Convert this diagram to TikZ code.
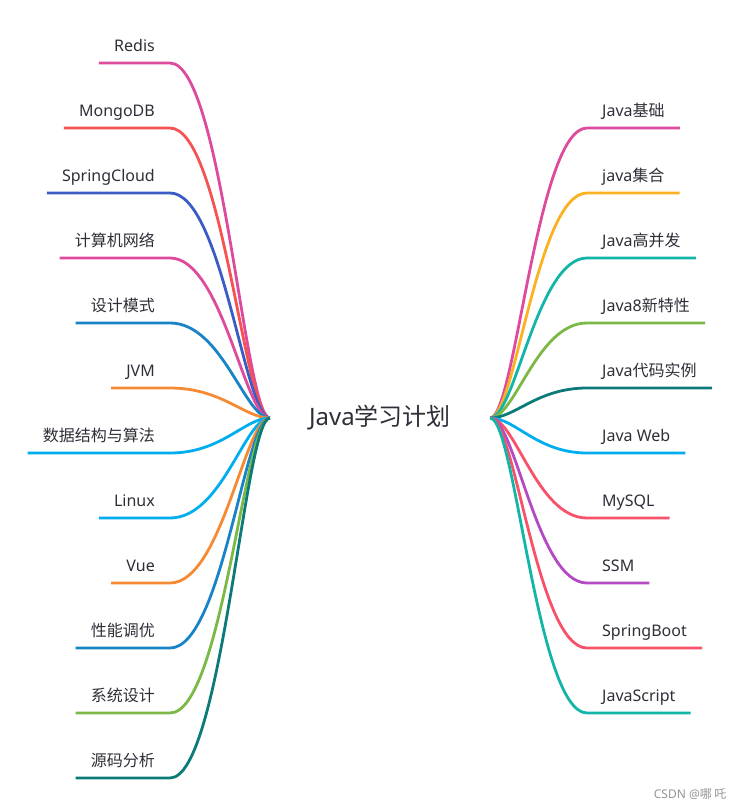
\documentclass[tikz,border=0pt]{standalone}
\usepackage{fontspec}
\setmainfont{Noto Sans}
\newfontfamily\cjk{Noto Sans CJK SC}
\usepackage{xcolor}
\usepackage{tikz}
\definecolor{labelgray}{HTML}{2E2E38}
\definecolor{mappink}{HTML}{DE4A9C}
\definecolor{mapred}{HTML}{F65252}
\definecolor{mapblue}{HTML}{3B5CC4}
\definecolor{midblue}{HTML}{1883C6}
\definecolor{maporange}{HTML}{F68A33}
\definecolor{mapcyan}{HTML}{00AEEF}
\definecolor{mapgreen}{HTML}{7BB846}
\definecolor{darkteal}{HTML}{0D7A7A}
\definecolor{mapamber}{HTML}{FBB122}
\definecolor{mapteal}{HTML}{12B5A8}
\definecolor{mapcoral}{HTML}{F7526A}
\definecolor{mappurple}{HTML}{B449C4}

\tikzset{
  leaf/.style={inner xsep=15pt, inner ysep=8pt, text height=11pt, text depth=3pt,
    text=labelgray, font=\fontsize{16}{19}\selectfont},
  leftleaf/.style={leaf, anchor=south east},
  rightleaf/.style={leaf, anchor=south west},
  root/.style={minimum width=220pt, inner sep=0pt, text=labelgray,
    font=\fontsize{24}{28}\selectfont},
  branch/.style={line width=2.8pt}
}

\begin{document}
\begin{tikzpicture}[x=1pt, y=-1pt]
  \useasboundingbox (0,0) rectangle (743,810);

  \node[root] (root) at (380,418) {Java{\cjk 学习计划}};

  % left side
  \node[leftleaf] (redis) at (170,63) {Redis};
  \node[leftleaf] (mongo) at (170,128) {MongoDB};
  \node[leftleaf] (cloud) at (170,193) {SpringCloud};
  \node[leftleaf] (net) at (170,258) {\cjk 计算机网络};
  \node[leftleaf] (pattern) at (170,323) {\cjk 设计模式};
  \node[leftleaf] (jvm) at (170,388) {JVM};
  \node[leftleaf] (algo) at (170,453) {\cjk 数据结构与算法};
  \node[leftleaf] (linux) at (170,518) {Linux};
  \node[leftleaf] (vue) at (170,583) {Vue};
  \node[leftleaf] (tuning) at (170,648) {\cjk 性能调优};
  \node[leftleaf] (sysdesign) at (170,713) {\cjk 系统设计};
  \node[leftleaf] (source) at (170,778) {\cjk 源码分析};

  \draw[branch, mappink] (redis.south west) -- (redis.south east) .. controls +(52,0) and +(-25,0) .. (root.west);
  \draw[branch, mapred] (mongo.south west) -- (mongo.south east) .. controls +(52,0) and +(-25,0) .. (root.west);
  \draw[branch, mapblue] (cloud.south west) -- (cloud.south east) .. controls +(52,0) and +(-25,0) .. (root.west);
  \draw[branch, mappink] (net.south west) -- (net.south east) .. controls +(52,0) and +(-25,0) .. (root.west);
  \draw[branch, midblue] (pattern.south west) -- (pattern.south east) .. controls +(52,0) and +(-25,0) .. (root.west);
  \draw[branch, maporange] (jvm.south west) -- (jvm.south east) .. controls +(52,0) and +(-25,0) .. (root.west);
  \draw[branch, mapcyan] (algo.south west) -- (algo.south east) .. controls +(52,0) and +(-25,0) .. (root.west);
  \draw[branch, mapcyan] (linux.south west) -- (linux.south east) .. controls +(52,0) and +(-25,0) .. (root.west);
  \draw[branch, maporange] (vue.south west) -- (vue.south east) .. controls +(52,0) and +(-25,0) .. (root.west);
  \draw[branch, midblue] (tuning.south west) -- (tuning.south east) .. controls +(52,0) and +(-25,0) .. (root.west);
  \draw[branch, mapgreen] (sysdesign.south west) -- (sysdesign.south east) .. controls +(52,0) and +(-25,0) .. (root.west);
  \draw[branch, darkteal] (source.south west) -- (source.south east) .. controls +(52,0) and +(-25,0) .. (root.west);

  % right side
  \node[rightleaf] (basics) at (587,128) {Java{\cjk 基础}};
  \node[rightleaf] (collect) at (587,193) {java{\cjk 集合}};
  \node[rightleaf] (concur) at (587,258) {Java{\cjk 高并发}};
  \node[rightleaf] (java8) at (587,323) {Java8{\cjk 新特性}};
  \node[rightleaf] (examples) at (587,388) {Java{\cjk 代码实例}};
  \node[rightleaf] (web) at (587,453) {Java Web};
  \node[rightleaf] (mysql) at (587,518) {MySQL};
  \node[rightleaf] (ssm) at (587,583) {SSM};
  \node[rightleaf] (boot) at (587,648) {SpringBoot};
  \node[rightleaf] (js) at (587,713) {JavaScript};

  \draw[branch, mappink] (basics.south east) -- (basics.south west) .. controls +(-50,0) and +(25,0) .. (root.east);
  \draw[branch, mapamber] (collect.south east) -- (collect.south west) .. controls +(-50,0) and +(25,0) .. (root.east);
  \draw[branch, mapteal] (concur.south east) -- (concur.south west) .. controls +(-50,0) and +(25,0) .. (root.east);
  \draw[branch, mapgreen] (java8.south east) -- (java8.south west) .. controls +(-50,0) and +(25,0) .. (root.east);
  \draw[branch, darkteal] (examples.south east) -- (examples.south west) .. controls +(-50,0) and +(25,0) .. (root.east);
  \draw[branch, mapcyan] (web.south east) -- (web.south west) .. controls +(-50,0) and +(25,0) .. (root.east);
  \draw[branch, mapcoral] (mysql.south east) -- (mysql.south west) .. controls +(-50,0) and +(25,0) .. (root.east);
  \draw[branch, mappurple] (ssm.south east) -- (ssm.south west) .. controls +(-50,0) and +(25,0) .. (root.east);
  \draw[branch, mapcoral] (boot.south east) -- (boot.south west) .. controls +(-50,0) and +(25,0) .. (root.east);
  \draw[branch, mapteal] (js.south east) -- (js.south west) .. controls +(-50,0) and +(25,0) .. (root.east);

  \node[anchor=east, text=gray!85, font=\fontsize{12}{14}\selectfont] (mark) at (730,794) {CSDN @{\cjk 哪 吒}};
\end{tikzpicture}
\end{document}
